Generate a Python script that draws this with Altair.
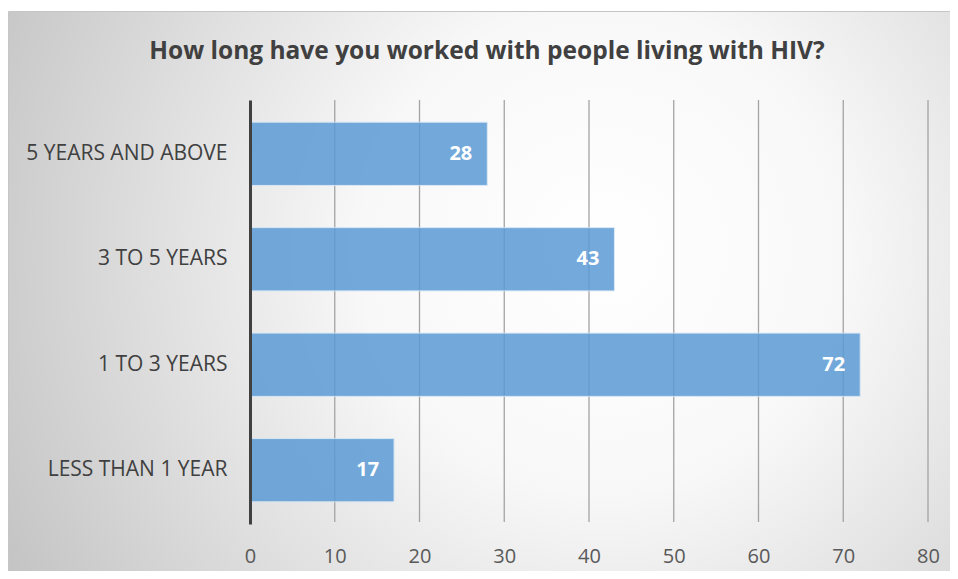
import altair as alt
import pandas as pd

# ---- data ----
categories = ["5 YEARS AND ABOVE", "3 TO 5 YEARS", "1 TO 3 YEARS", "LESS THAN 1 YEAR"]
counts = [28, 43, 72, 17]
x_ticks = [0, 10, 20, 30, 40, 50, 60, 70, 80]
grid_ticks = [10, 20, 30, 40, 50, 60, 70, 80]
title_text = "How long have you worked with people living with HIV?"

df = pd.DataFrame({"duration": categories, "count": counts})
grid_df = pd.DataFrame({"v": grid_ticks})

W, H = 678, 424
PAD = {"left": 242, "top": 92, "right": 22, "bottom": 47}
FONT = "Open Sans"

x_scale = alt.Scale(domain=[0, 80], nice=False)
y_scale = alt.Scale(paddingInner=0.4, paddingOuter=0.21)

# background panel with radial gradient
bg = alt.Chart(pd.DataFrame({"a": [0]})).mark_rect(
    fill=alt.RadialGradient(
        gradient="radial",
        stops=[alt.GradientStop(offset=0, color="#ffffff"),
               alt.GradientStop(offset=0.35, color="#f8f8f8"),
               alt.GradientStop(offset=1, color="#c2c2c2")],
        x1=0.62, y1=0.45, x2=0.62, y2=0.45, r1=0, r2=0.72),
    stroke="#c6c6c6", strokeWidth=1,
).encode(
    x=alt.value(-PAD["left"] + 0.5), x2=alt.value(W + 40),
    y=alt.value(-89 + 0.5), y2=alt.value(H + 60),
)

title = alt.Chart(pd.DataFrame({"t": [title_text]})).mark_text(
    fontSize=24.5, fontWeight="bold", color="#404040", font=FONT,
    align="center", baseline="middle",
).encode(x=alt.value(237), y=alt.value(-48), text="t:N")

grid = alt.Chart(grid_df).mark_rule(color="#a3a3a3", strokeWidth=1.3).encode(
    x=alt.X("v:Q", scale=x_scale),
    y=alt.value(0), y2=alt.value(H - 2),
)

x_axis = alt.Axis(values=x_ticks, grid=False, domain=False, ticks=False,
                  labelFontSize=20, labelColor="#595959", labelFont=FONT,
                  labelPadding=22, labelFlush=False, zindex=1)
y_axis = alt.Axis(grid=False, domain=True, domainColor="#404040", domainWidth=3,
                  ticks=False, labelFontSize=21, labelColor="#404040", labelFont=FONT,
                  labelPadding=23, labelLimit=400, zindex=1)

base = alt.Chart(df).encode(
    y=alt.Y("duration:N", sort=categories, scale=y_scale, title=None, axis=y_axis),
)

bars = base.mark_bar(color="#5b9bd5", opacity=0.85, stroke="#d6e6f5",
                     strokeWidth=1).encode(
    x=alt.X("count:Q", scale=x_scale, title=None, axis=x_axis),
)

labels = base.mark_text(align="right", baseline="middle", dx=-15, color="white",
                        fontWeight="bold", fontSize=20, font=FONT).encode(
    x=alt.X("count:Q", scale=x_scale),
    text=alt.Text("count:Q"),
)

chart = alt.layer(bg, title, grid, bars, labels).properties(
    width=W, height=H,
    autosize=alt.AutoSizeParams(type="none"),
    padding=PAD,
).configure_view(stroke=None).configure(background="white")

chart.save("out.html", embed_options={"renderer": "svg", "actions": False})
